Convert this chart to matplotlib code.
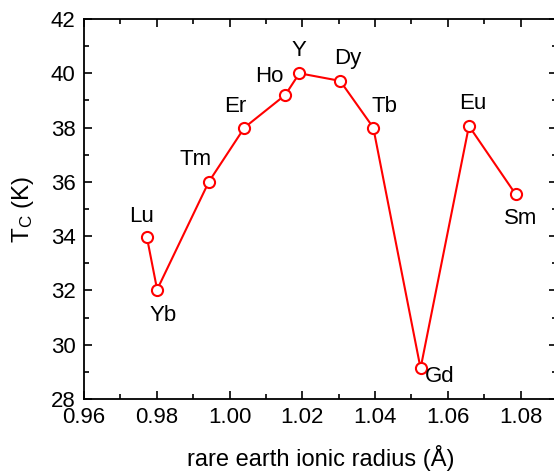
import numpy as np
import matplotlib
matplotlib.use('Agg')
import matplotlib.pyplot as plt
from matplotlib.ticker import MultipleLocator

plt.rcParams['font.family'] = ['Liberation Sans', 'DejaVu Sans']
plt.rcParams['mathtext.fontset'] = 'custom'
plt.rcParams['mathtext.rm'] = 'Liberation Sans'

elements = ['Lu', 'Yb', 'Tm', 'Er', 'Ho', 'Y', 'Dy', 'Tb', 'Gd', 'Eu', 'Sm']
radius = [0.9773, 0.9801, 0.9943, 1.0041, 1.0153, 1.0192, 1.0304, 1.0395, 1.0525, 1.0658, 1.0786]
tc = [33.95, 32.03, 36.0, 38.0, 39.2, 40.0, 39.72, 38.0, 29.13, 38.06, 35.55]

# label offsets (pixels) relative to each point
offsets = {'Lu': (-5, 21), 'Yb': (6, -26), 'Tm': (-13, 22), 'Er': (-9, 21), 'Ho': (-16, 18),
           'Y': (0, 23), 'Dy': (8, 22), 'Tb': (11, 21), 'Gd': (19, -8), 'Eu': (4, 22),
           'Sm': (5, -24)}

fig = plt.figure(figsize=(5.54, 4.72), dpi=100)
ax = fig.add_axes([84 / 554, 1 - 399 / 472, 473 / 554, 380 / 472])

ax.plot(radius, tc, '-', color='red', lw=1.5, marker='o', ms=8,
        mfc='white', mec='red', mew=1.5)

for el, x, y in zip(elements, radius, tc):
    dx, dy = offsets[el]
    ax.annotate(el, (x, y), xytext=(dx * 0.72, dy * 0.72), textcoords='offset points',
                ha='center', va='center', fontsize=16)

ax.set_xlim(0.96, 1.09)
ax.set_ylim(28, 42)
ax.xaxis.set_major_locator(MultipleLocator(0.02))
ax.xaxis.set_minor_locator(MultipleLocator(0.01))
ax.yaxis.set_major_locator(MultipleLocator(2))
ax.yaxis.set_minor_locator(MultipleLocator(1))
ax.xaxis.set_major_formatter(matplotlib.ticker.FormatStrFormatter('%.2f'))
ax.tick_params(which='both', direction='in', top=True, right=True, labelsize=16, width=1.2)
ax.tick_params(which='major', length=6, pad=6)
ax.tick_params(which='minor', length=3.5)
for s in ax.spines.values():
    s.set_linewidth(1.3)

ax.set_xlabel('rare earth ionic radius (Å)', fontsize=17, labelpad=12)
ax.set_ylabel(r'$\mathregular{T_C}$ (K)', fontsize=17.5, labelpad=11)

fig.savefig('out.png', dpi=100)
